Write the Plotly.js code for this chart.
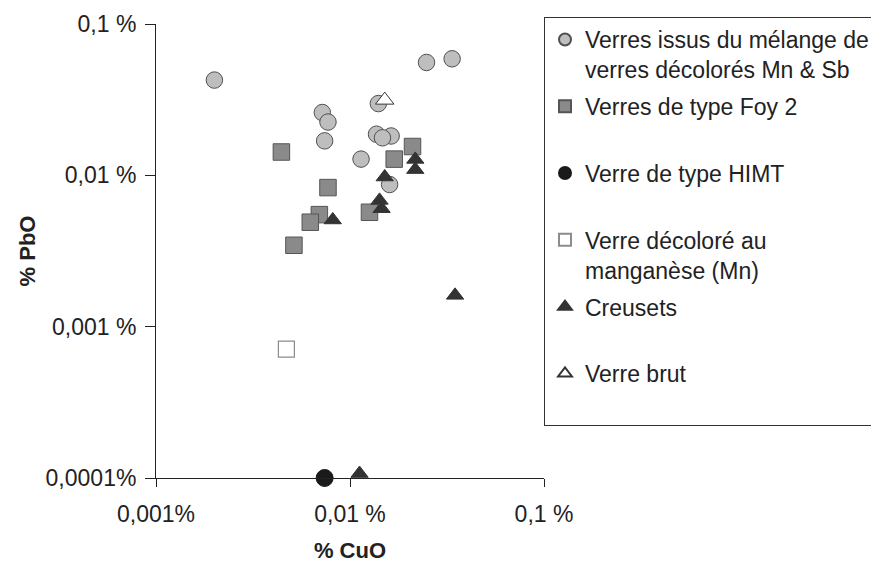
<!DOCTYPE html>
<html>
<head>
<meta charset="utf-8">
<script src="https://cdn.plot.ly/plotly-3.0.1.min.js"></script>
<style>html,body{margin:0;padding:0;background:#fff;}#chart{width:871px;height:563px;}</style>
</head>
<body>
<div id="chart"></div>
<script>
// Series names (legend)
const seriesNames = [
  "Verres issus du mélange de<br>verres décolorés Mn & Sb",
  "Verres de type Foy 2<br>&nbsp;",
  "Verre de type HIMT<br>&nbsp;",
  "Verre décoloré au<br>manganèse (Mn)",
  "Creusets<br>&nbsp;",
  "Verre brut<br>&nbsp;"
];

// % CuO (x) and % PbO (y)
const melangeX = [0.0020, 0.0248, 0.0336, 0.0140, 0.0072, 0.0077, 0.0074, 0.0137, 0.0163, 0.0147, 0.0114, 0.0160];
const melangeY = [0.0426, 0.0557, 0.0589, 0.0298, 0.0260, 0.0225, 0.0169, 0.0187, 0.0182, 0.0177, 0.0128, 0.0087];

const foyX = [0.00443, 0.0210, 0.0169, 0.0077, 0.00695, 0.00624, 0.0126, 0.00514];
const foyY = [0.01426, 0.0155, 0.0128, 0.0083, 0.0055, 0.0049, 0.0057, 0.00345];

const himtX = [0.0074];
const himtY = [0.0001];

const mnX = [0.0047];
const mnY = [0.00071];

const creusetsX = [0.0217, 0.0217, 0.0151, 0.0142, 0.01455, 0.00815, 0.0348, 0.0112];
const creusetsY = [0.01274, 0.01091, 0.00975, 0.00683, 0.00602, 0.00507, 0.00161, 0.000107];

const brutX = [0.0151];
const brutY = [0.0314];

// Tick labels
const xTickVals = [0.001, 0.01, 0.1];
const xTickText = ["0,001%", "0,01 %", "0,1 %"];
const yTickVals = [0.0001, 0.001, 0.01, 0.1];
const yTickText = ["0,0001%", "0,001 %", "0,01 %", "0,1 %"];

const FONT = "Liberation Sans, Arial, sans-serif";

function tr(x, y, i, marker) {
  return {
    type: "scatter", mode: "markers", x: x, y: y, name: seriesNames[i],
    legendgroup: "g" + i, marker: marker, hoverinfo: "x+y", cliponaxis: false
  };
}

const data = [
  tr(melangeX, melangeY, 0, {symbol: "circle", size: 16.5, color: "#bebebe", line: {color: "#505050", width: 1}}),
  tr(foyX, foyY, 1, {symbol: "square", size: 16.5, color: "#8a8a8a", line: {color: "#555555", width: 1}}),
  tr(himtX, himtY, 2, {symbol: "circle", size: 17, color: "#1a1a1a", line: {color: "#1a1a1a", width: 1}}),
  tr(mnX, mnY, 3, {symbol: "square", size: 16, color: "#ffffff", line: {color: "#8c8c8c", width: 1.2}}),
  tr(creusetsX, creusetsY, 4, {symbol: "triangle-up", size: 15, color: "#333333", line: {color: "#333333", width: 1}}),
  tr(brutX, brutY, 5, {symbol: "triangle-up", size: 16, color: "#ffffff", line: {color: "#333333", width: 1}})
];

const layout = {
  width: 871, height: 563,
  margin: {l: 156, r: 327, t: 24, b: 85, pad: 0, autoexpand: false},
  paper_bgcolor: "#ffffff", plot_bgcolor: "#ffffff",
  font: {family: FONT, size: 23, color: "#222222"},
  showlegend: true,
  xaxis: {
    type: "log", range: [-3, -1],
    tickvals: xTickVals, ticktext: xTickText,
    ticks: "outside", ticklen: 8, tickwidth: 1, tickcolor: "#222222",
    showline: true, linecolor: "#222222", linewidth: 1,
    showgrid: false, zeroline: false,
    tickfont: {family: FONT, size: 23, color: "#222222"},
    ticklabelstandoff: 7,
    title: {text: "% CuO", font: {family: FONT, size: 22, color: "#222222", weight: "bold"}, standoff: 28}
  },
  yaxis: {
    type: "log", range: [-4, -1],
    tickvals: yTickVals, ticktext: yTickText,
    ticks: "outside", ticklen: 10, tickwidth: 1, tickcolor: "#222222",
    showline: true, linecolor: "#222222", linewidth: 1,
    showgrid: false, zeroline: false,
    tickfont: {family: FONT, size: 23, color: "#222222"},
    ticklabelstandoff: 4,
    title: {text: "% PbO", font: {family: FONT, size: 22, color: "#222222", weight: "bold"}, standoff: 3}
  },
  legend: {
    xref: "container", yref: "container",
    x: 544 / 871, xanchor: "left", y: (563 - 17) / 563, yanchor: "top",
    bgcolor: "#ffffff", bordercolor: "#333333", borderwidth: 1,
    font: {family: FONT, size: 23, color: "#222222"},
    valign: "top", itemsizing: "constant", tracegroupgap: 4,
    traceorder: "grouped", maxheight: 540
  }
};

Plotly.newPlot("chart", data, layout, {staticPlot: true, displayModeBar: false});
</script>
</body>
</html>
